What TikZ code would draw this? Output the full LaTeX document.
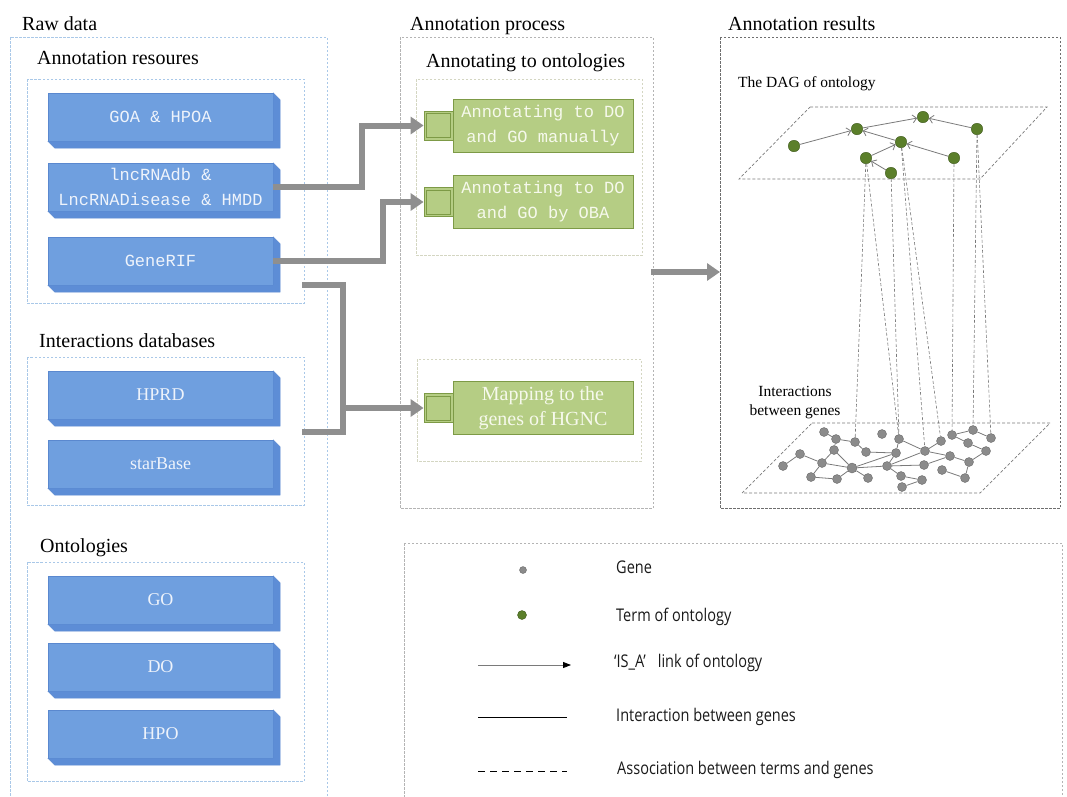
\documentclass[tikz,border=0pt]{standalone}
\usepackage{fontspec}
\setmainfont{Liberation Serif}
\newfontfamily\boxmono{Liberation Mono}
\newfontfamily\legendfont{Open Sans}[FakeStretch=0.83]
\usepackage{xcolor}
\usetikzlibrary{arrows.meta}

\definecolor{rawblue}{HTML}{A9C8E8}
\definecolor{slabface}{HTML}{6F9FDF}
\definecolor{slabside}{HTML}{5D8DD6}
\definecolor{slabline}{HTML}{5A88CF}
\definecolor{slabtext}{HTML}{EEF3FB}
\definecolor{midgray}{HTML}{B4B4B4}
\definecolor{innergray}{HTML}{D4D6C2}
\definecolor{resgray}{HTML}{6E6E6E}
\definecolor{gfill}{HTML}{B5CD84}
\definecolor{gline}{HTML}{7D9A46}
\definecolor{gtext}{HTML}{F6F9EC}
\definecolor{flowgray}{HTML}{8F8F8F}
\definecolor{termgreen}{HTML}{5B7F2A}
\definecolor{termline}{HTML}{3F5A1C}
\definecolor{genegray}{HTML}{8B8B8B}
\definecolor{geneline}{HTML}{6B6B6B}
\definecolor{linkgray}{HTML}{7A7A7A}
\definecolor{legendtext}{HTML}{1A1A1A}

\begin{document}
\begin{tikzpicture}[x=1pt, y=-1pt,
    frame/.style={dash pattern=on 2.5pt off 1.5pt, line width=0.8pt},
    rawframe/.style={frame, draw=rawblue},
    midframe/.style={frame, draw=midgray},
    innerframe/.style={frame, draw=innergray},
    resframe/.style={frame, draw=resgray},
    slab/.style={draw=slabline, fill=slabface, text=slabtext, minimum width=225pt, minimum height=48pt, inner sep=0pt, align=center, font=\boxmono\fontsize{17}{25}\selectfont},
    slabserif/.style={slab, font=\fontsize{18}{22}\selectfont},
    bevel/.style={draw=slabline, fill=slabside},
    head/.style={anchor=base west, inner sep=0pt, font=\fontsize{20}{24}\selectfont},
    gbox/.style={draw=gline, fill=gfill, text=gtext, line width=0.8pt, minimum width=180pt, minimum height=53pt, inner sep=0pt, align=center, font=\boxmono\fontsize{17}{25}\selectfont},
    sqbox/.style={draw=gline, fill=gfill, line width=0.8pt, minimum size=29pt, inner sep=0pt,
        path picture={\draw[gline, line width=0.8pt] ([shift={(2.5pt,2.5pt)}]path picture bounding box.south west) rectangle ([shift={(-2.5pt,-2.5pt)}]path picture bounding box.north east);}},
    flow/.style={draw=flowgray, line width=6pt, -{Triangle[length=13pt,width=17pt]}},
    flowline/.style={draw=flowgray, line width=6pt},
    term/.style={circle, fill=termgreen, draw=termline, minimum size=11.5pt, inner sep=0pt},
    gene/.style={circle, fill=genegray, draw=geneline, minimum size=9pt, inner sep=0pt},
    isa/.style={draw=linkgray, line width=0.8pt, -{Straight Barb[length=4pt,width=8pt]}},
    inter/.style={draw=linkgray, line width=0.8pt},
    assoc/.style={draw=linkgray, line width=0.6pt, dash pattern=on 3pt off 2pt},
    plane/.style={draw=linkgray, line width=0.7pt, dash pattern=on 3pt off 2pt},
    legend/.style={anchor=base west, inner sep=0pt, font=\legendfont\fontsize{17.5}{20}\selectfont, text=legendtext}]
\useasboundingbox (0,0) rectangle (1067,796);

\draw[rawframe] (10,37) rectangle (327,800);
\draw[rawframe] (27,79) rectangle (304,303);
\draw[rawframe] (27,357) rectangle (304,505);
\draw[rawframe] (27,562) rectangle (304,781);
\draw[midframe] (400,37) rectangle (653,508);
\draw[innerframe] (416,79) rectangle (642,255);
\draw[innerframe] (417,359) rectangle (641,461);
\draw[resframe] (720,37) rectangle (1060,508);
\draw[midframe] (404,543) rectangle (1062,800);

\node[head] (rawlbl) at (22,30) {Raw data};
\node[head] (reslbl) at (37,64) {Annotation resoures};
\node[head] (intlbl) at (39,347) {Interactions databases};
\node[head] (ontlbl) at (40,552) {Ontologies};
\node[head] (proclbl) at (410,30) {Annotation process};
\node[head] (annlbl) at (426,67) {Annotating to ontologies};
\node[head] (outlbl) at (728,30) {Annotation results};
\node[head, font=\fontsize{15.5}{19}\selectfont] (daglbl) at (738,87) {The DAG of ontology};
\node[align=center, font=\fontsize{15.5}{19}\selectfont] (netlbl) at (795,403) {Interactions\\between genes};

\node[slab] (goa) at (160.5,117) {GOA \& HPOA};
\node[slab] (lnc) at (160.5,187) {lncRNAdb \&\\LncRNADisease \& HMDD};
\node[slab] (rif) at (160.5,261) {GeneRIF};
\node[slabserif] (hprd) at (160.5,395) {HPRD};
\node[slabserif] (star) at (160.5,464) {starBase};
\node[slabserif] (go) at (160.5,600) {GO};
\node[slabserif] (do) at (160.5,667) {DO};
\node[slabserif] (hpo) at (160.5,734) {HPO};

\filldraw[bevel] (goa.north east) -- ([shift={(7,7)}]goa.north east) -- ([shift={(7,7)}]goa.south east) -- ([shift={(7,7)}]goa.south west) -- (goa.south west) -- (goa.south east) -- cycle;
\filldraw[bevel] (lnc.north east) -- ([shift={(7,7)}]lnc.north east) -- ([shift={(7,7)}]lnc.south east) -- ([shift={(7,7)}]lnc.south west) -- (lnc.south west) -- (lnc.south east) -- cycle;
\filldraw[bevel] (rif.north east) -- ([shift={(7,7)}]rif.north east) -- ([shift={(7,7)}]rif.south east) -- ([shift={(7,7)}]rif.south west) -- (rif.south west) -- (rif.south east) -- cycle;
\filldraw[bevel] (hprd.north east) -- ([shift={(7,7)}]hprd.north east) -- ([shift={(7,7)}]hprd.south east) -- ([shift={(7,7)}]hprd.south west) -- (hprd.south west) -- (hprd.south east) -- cycle;
\filldraw[bevel] (star.north east) -- ([shift={(7,7)}]star.north east) -- ([shift={(7,7)}]star.south east) -- ([shift={(7,7)}]star.south west) -- (star.south west) -- (star.south east) -- cycle;
\filldraw[bevel] (go.north east) -- ([shift={(7,7)}]go.north east) -- ([shift={(7,7)}]go.south east) -- ([shift={(7,7)}]go.south west) -- (go.south west) -- (go.south east) -- cycle;
\filldraw[bevel] (do.north east) -- ([shift={(7,7)}]do.north east) -- ([shift={(7,7)}]do.south east) -- ([shift={(7,7)}]do.south west) -- (do.south west) -- (do.south east) -- cycle;
\filldraw[bevel] (hpo.north east) -- ([shift={(7,7)}]hpo.north east) -- ([shift={(7,7)}]hpo.south east) -- ([shift={(7,7)}]hpo.south west) -- (hpo.south west) -- (hpo.south east) -- cycle;

\node[gbox] (manual) at (543,125.5) {Annotating to DO\\and GO manually};
\node[sqbox] (sq1) at (438.5,125.5) {};
\node[gbox] (oba) at (543,202) {Annotating to DO\\and GO by OBA};
\node[sqbox] (sq2) at (438.5,202) {};
\node[gbox, font=\fontsize{20}{25}\selectfont] (hgnc) at (543,408) {Mapping to the\\genes of HGNC};
\node[sqbox] (sq3) at (438.5,408) {};

\coordinate (rifout) at (302,285);
\coordinate (starout) at (302,432);
\coordinate (join) at (343,408);
\coordinate (procout) at (651,272);
\coordinate (resin) at (720,272);

\draw[flow] (lnc.east) -- ++(89,0) |- (sq1.west);
\draw[flow] (rif.east) -- ++(110,0) |- (sq2.west);
\draw[flowline] (rifout) -- ++(41,0) |- (starout);
\draw[flow] (join) -- (sq3.west);
\draw[flow] (procout) -- (resin);

\draw[plane] (810,107) -- (1047,107) -- (980,179) -- (739,179) -- cycle;
\draw[plane] (812,423) -- (1050,423) -- (980,493) -- (742,493) -- cycle;

\node[term] (t1) at (794,146) {};
\node[term] (t2) at (857,129) {};
\node[term] (t3) at (923,117) {};
\node[term] (t4) at (977,129) {};
\node[term] (t5) at (901,142) {};
\node[term] (t6) at (866,158) {};
\node[term] (t7) at (954,158) {};
\node[term] (t8) at (891,173) {};

\draw[isa] (t1) -- (t2);
\draw[isa] (t2) -- (t3);
\draw[isa] (t4) -- (t3);
\draw[isa] (t5) -- (t2);
\draw[isa] (t6) -- (t5);
\draw[isa] (t7) -- (t5);
\draw[isa] (t8) -- (t6);

\node[gene] (g1) at (824,432) {};
\node[gene] (g2) at (836,439) {};
\node[gene] (g3) at (855,442) {};
\node[gene] (g4) at (834,450) {};
\node[gene] (g5) at (866,452) {};
\node[gene] (g6) at (800,454) {};
\node[gene] (g7) at (822,463) {};
\node[gene] (g8) at (783,466) {};
\node[gene, minimum size=10pt] (g9) at (852,468) {};
\node[gene] (g10) at (811,477) {};
\node[gene] (g11) at (837,479) {};
\node[gene] (g12) at (868,478) {};
\node[gene] (g13) at (882,434) {};
\node[gene] (g14) at (899,439) {};
\node[gene] (g15) at (896,453) {};
\node[gene] (g16) at (887,466) {};
\node[gene] (g17) at (901,476) {};
\node[gene] (g18) at (922,480) {};
\node[gene] (g19) at (902,487) {};
\node[gene] (g20) at (925,451) {};
\node[gene] (g21) at (941,441) {};
\node[gene] (g22) at (924,465) {};
\node[gene] (g23) at (952,435) {};
\node[gene] (g24) at (973,430) {};
\node[gene] (g25) at (991,438) {};
\node[gene] (g26) at (968,443) {};
\node[gene] (g27) at (950,456) {};
\node[gene] (g28) at (986,451) {};
\node[gene] (g29) at (969,462) {};
\node[gene] (g30) at (942,470) {};
\node[gene] (g31) at (965,478) {};

\draw[inter] (g1) -- (g2) (g2) -- (g3) (g3) -- (g5) (g2) -- (g4) (g4) -- (g7) (g6) -- (g7)
    (g6) -- (g8) (g7) -- (g9) (g4) -- (g9) (g7) -- (g10) (g10) -- (g11) (g11) -- (g9)
    (g9) -- (g12) (g5) -- (g15) (g9) -- (g15) (g9) -- (g16) (g14) -- (g15) (g14) -- (g20)
    (g15) -- (g16) (g16) -- (g20) (g16) -- (g22) (g16) -- (g17) (g17) -- (g18) (g18) -- (g19)
    (g20) -- (g21) (g20) -- (g27) (g22) -- (g27) (g23) -- (g24) (g24) -- (g25) (g23) -- (g26)
    (g26) -- (g28) (g28) -- (g29) (g27) -- (g29) (g29) -- (g31) (g30) -- (g31);

\draw[assoc] (t6) -- (g3);
\draw[assoc] (t6) -- (g14);
\draw[assoc] (t8) -- (g14);
\draw[assoc] (t5) -- (g20);
\draw[assoc] (t5) -- (g21);
\draw[assoc] (t7) -- (g23);
\draw[assoc] (t4) -- (g24);
\draw[assoc] (t4) -- (g25);

\node[gene, minimum size=7pt] (lgene) at (523,570) {};
\node[term, minimum size=9pt] (lterm) at (522,615) {};
\coordinate (lisa1) at (478,665);
\coordinate (lisa2) at (571,665);
\coordinate (lint1) at (478,717);
\coordinate (lint2) at (567,717);
\coordinate (lass1) at (478,771);
\coordinate (lass2) at (567,771);
\draw[draw=linkgray, line width=0.8pt, -{Triangle[length=8pt,width=6pt,color=black,fill=black]}] (lisa1) -- (lisa2);
\draw[draw=black, line width=0.8pt] (lint1) -- (lint2);
\draw[draw=black, line width=0.8pt, dash pattern=on 7pt off 5pt] (lass1) -- (lass2);

\node[legend] (genetxt) at (616,573) {Gene};
\node[legend] (termtxt) at (616,621) {Term of ontology};
\node[legend] (isatxt) at (614,667) {‘IS\_A’\hspace{12pt}link of ontology};
\node[legend] (intertxt) at (616,721) {Interaction between genes};
\node[legend] (assoctxt) at (617,774) {Association between terms and genes};
\end{tikzpicture}
\end{document}
